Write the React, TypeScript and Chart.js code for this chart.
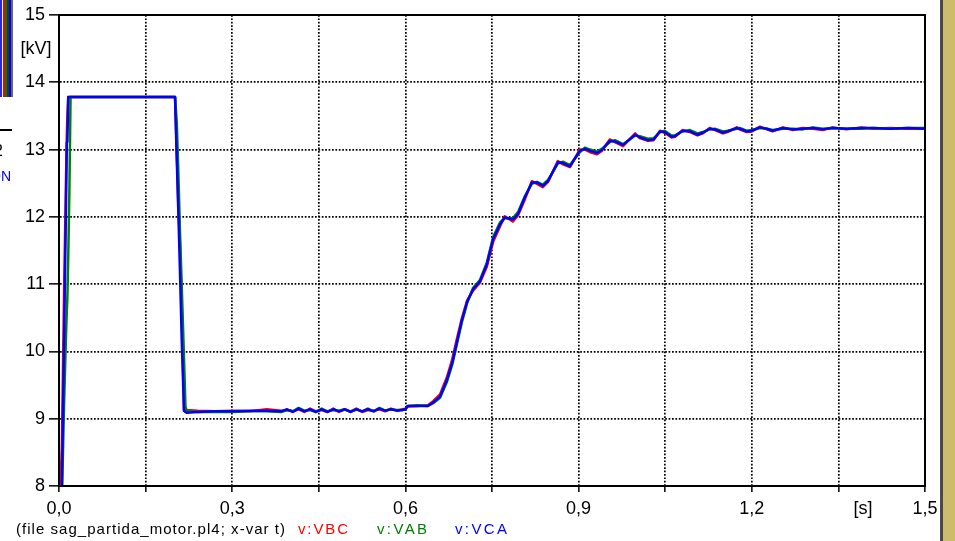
import React, { useEffect, useRef } from 'react';
import { Chart, registerables } from 'chart.js';

Chart.register(...registerables);

// ---- data (time in s, voltages in kV) ----
const T = [
  0.000, 0.005, 0.009, 0.012, 0.0135, 0.0145, 0.016, 0.018, 0.020, 0.201,
  0.204, 0.2066, 0.2095, 0.2125, 0.2165, 0.219, 0.221, 0.24, 0.27, 0.30,
  0.33, 0.36, 0.385, 0.395, 0.405, 0.415, 0.425, 0.435, 0.445, 0.455,
  0.465, 0.475, 0.485, 0.495, 0.505, 0.515, 0.525, 0.535, 0.545, 0.555,
  0.565, 0.575, 0.585, 0.595, 0.600, 0.604, 0.620, 0.639, 0.648, 0.660,
  0.672, 0.681, 0.689, 0.698, 0.707, 0.717, 0.729, 0.741, 0.752, 0.764,
  0.772, 0.786, 0.795, 0.807, 0.819, 0.828, 0.838, 0.847, 0.864, 0.873,
  0.885, 0.902, 0.911, 0.920, 0.932, 0.940, 0.954, 0.963, 0.977, 0.998,
  1.006, 1.020, 1.030, 1.041, 1.049, 1.061, 1.067, 1.080, 1.093, 1.106,
  1.115, 1.127, 1.136, 1.150, 1.158, 1.174, 1.179, 1.191, 1.200, 1.214,
  1.226, 1.236, 1.254, 1.271, 1.288, 1.306, 1.323, 1.340, 1.364, 1.390,
  1.410, 1.440, 1.470, 1.500,
];

const VBC = [
  7.4, 8.6, 11.0, 12.5, 13.2, 13.5, 13.78, 13.78, 13.78, 13.78,
  12.95, 12.2, 11.6, 10.7, 9.12, 9.14, 9.13, 9.12, 9.11, 9.12,
  9.11, 9.14, 9.12, 9.13, 9.11, 9.14, 9.10, 9.15, 9.11, 9.13,
  9.10, 9.15, 9.10, 9.14, 9.11, 9.15, 9.10, 9.13, 9.12, 9.14,
  9.11, 9.15, 9.12, 9.14, 9.15, 9.18, 9.19, 9.20, 9.26, 9.36,
  9.62, 9.88, 10.18, 10.50, 10.76, 10.90, 11.02, 11.26, 11.63, 11.86,
  12.01, 11.93, 12.02, 12.26, 12.53, 12.49, 12.44, 12.52, 12.83, 12.78,
  12.74, 13.00, 13.00, 12.96, 12.93, 12.98, 13.15, 13.11, 13.05, 13.24,
  13.17, 13.13, 13.14, 13.28, 13.25, 13.18, 13.19, 13.29, 13.26, 13.21,
  13.24, 13.32, 13.29, 13.24, 13.26, 13.33, 13.30, 13.26, 13.27, 13.34,
  13.30, 13.27, 13.33, 13.29, 13.32, 13.31, 13.29, 13.33, 13.30, 13.33,
  13.31, 13.32, 13.31, 13.31,
];

const VAB = [
  7.0, 7.8, 9.3, 10.2, 10.6, 10.8, 11.4, 12.4, 13.78, 13.78,
  13.4, 12.7, 11.8, 11.0, 9.9, 9.18, 9.12, 9.10, 9.10, 9.10,
  9.11, 9.11, 9.10, 9.13, 9.11, 9.16, 9.12, 9.13, 9.10, 9.15,
  9.11, 9.13, 9.12, 9.14, 9.10, 9.14, 9.11, 9.15, 9.11, 9.16,
  9.12, 9.14, 9.13, 9.13, 9.14, 9.19, 9.20, 9.19, 9.23, 9.31,
  9.55, 9.80, 10.10, 10.44, 10.72, 10.94, 11.06, 11.32, 11.70, 11.92,
  11.98, 11.98, 12.07, 12.31, 12.49, 12.52, 12.48, 12.55, 12.79, 12.82,
  12.77, 12.96, 13.03, 13.00, 12.97, 13.01, 13.11, 13.14, 13.08, 13.21,
  13.20, 13.16, 13.17, 13.26, 13.28, 13.21, 13.21, 13.27, 13.29, 13.24,
  13.26, 13.30, 13.31, 13.27, 13.28, 13.31, 13.32, 13.28, 13.29, 13.32,
  13.31, 13.29, 13.31, 13.31, 13.30, 13.33, 13.31, 13.32, 13.31, 13.31,
  13.32, 13.31, 13.32, 13.32,
];

const VCA = [
  7.2, 8.0, 10.3, 12.1, 13.1, 13.12, 13.78, 13.78, 13.78, 13.78,
  12.85, 12.1, 11.2, 10.2, 9.12, 9.10, 9.09, 9.10, 9.11, 9.11,
  9.12, 9.12, 9.11, 9.14, 9.10, 9.15, 9.11, 9.14, 9.10, 9.14,
  9.10, 9.14, 9.11, 9.14, 9.10, 9.14, 9.11, 9.14, 9.11, 9.15,
  9.12, 9.14, 9.12, 9.13, 9.14, 9.19, 9.19, 9.19, 9.24, 9.33,
  9.58, 9.83, 10.13, 10.47, 10.74, 10.92, 11.04, 11.29, 11.67, 11.89,
  11.99, 11.96, 12.04, 12.29, 12.51, 12.51, 12.46, 12.53, 12.81, 12.80,
  12.75, 12.98, 13.01, 12.98, 12.95, 12.99, 13.13, 13.12, 13.07, 13.22,
  13.18, 13.14, 13.15, 13.27, 13.26, 13.19, 13.20, 13.28, 13.27, 13.22,
  13.25, 13.31, 13.30, 13.25, 13.27, 13.32, 13.31, 13.27, 13.28, 13.33,
  13.31, 13.28, 13.32, 13.30, 13.31, 13.32, 13.30, 13.32, 13.31, 13.32,
  13.32, 13.31, 13.32, 13.31,
];

const SERIES_NAMES = ['v:VBC', 'v:VAB', 'v:VCA'];
const SERIES_COLORS = ['#ff0000', '#008000', '#0000ff'];
const X_MIN = 0;
const X_MAX = 1.5;
const X_STEP = 0.15;
const X_LABEL_EVERY = 2; // label every second tick (0,0 0,3 0,6 ...)
const Y_MIN = 8;
const Y_MAX = 15;
const Y_STEP = 1;
const Y_UNIT = '[kV]';
const X_UNIT = '[s]';
const FILE_CAPTION = '(file sag_partida_motor.pl4; x-var t)';

const FONT = '"Liberation Sans", Arial, sans-serif';

const toXY = (vals: number[]) => T.map((t, i) => ({ x: t, y: vals[i] }));

function fitText(ctx: CanvasRenderingContext2D, text: string, x: number, y: number, width: number) {
  (ctx as any).letterSpacing = '0px';
  const w = ctx.measureText(text).width;
  const sp = (width - w) / Math.max(1, text.length - 1);
  (ctx as any).letterSpacing = sp + 'px';
  ctx.fillText(text, x, y);
  (ctx as any).letterSpacing = '0px';
}

const decorPlugin = {
  id: 'decor',
  afterDraw(chart: any) {
    const ctx: CanvasRenderingContext2D = chart.ctx;
    const { left, top, right, bottom } = chart.chartArea;
    const ys = chart.scales.y;
    ctx.save();
    // frame
    ctx.strokeStyle = '#000';
    ctx.lineWidth = 2;
    ctx.setLineDash([]);
    ctx.strokeRect(left, top, right - left, bottom - top);

    // unit labels
    ctx.fillStyle = '#000';
    ctx.font = '18px ' + FONT;
    ctx.textAlign = 'center';
    ctx.textBaseline = 'middle';
    ctx.fillText(Y_UNIT, 36, ys.getPixelForValue(14.5));
    ctx.fillText(X_UNIT, right - 62, bottom + 23);

    // footer caption + series names
    ctx.font = '15px ' + FONT;
    ctx.textAlign = 'left';
    ctx.fillStyle = '#000';
    fitText(ctx, FILE_CAPTION, 16, 530, 269);
    const nameX = [298, 377, 455];
    const nameW = [50, 50, 52];
    SERIES_NAMES.forEach((n, i) => {
      ctx.fillStyle = SERIES_COLORS[i];
      fitText(ctx, n, nameX[i], 530, nameW[i]);
    });

    // cropped neighbouring window remnants on the left
    const vlines: [number, string][] = [
      [1, '#2a2ad0'], [4, '#ff0000'], [6, '#008000'], [8, '#333333'], [10, '#0000ff'], [12, '#666666'],
    ];
    ctx.lineWidth = 2;
    vlines.forEach(([x, c]) => {
      ctx.strokeStyle = c;
      ctx.beginPath();
      ctx.moveTo(x, 0);
      ctx.lineTo(x, 97);
      ctx.stroke();
    });
    ctx.strokeStyle = '#000';
    ctx.lineWidth = 2;
    ctx.beginPath();
    ctx.moveTo(0, 130);
    ctx.lineTo(12, 130);
    ctx.stroke();
    ctx.font = '16px ' + FONT;
    ctx.fillStyle = '#000';
    ctx.fillText('2', -6, 152);
    ctx.fillStyle = '#0000ff';
    ctx.font = '14px ' + FONT;
    ctx.fillText('ON', -10, 177);

    // right-hand strip
    ctx.fillStyle = '#4a4a4a';
    ctx.fillRect(940, 0, 3, chart.height);
    ctx.fillStyle = '#ccbc6c';
    ctx.fillRect(943, 0, chart.width - 943, chart.height);
    ctx.restore();
  },
};

export default function App() {
  const ref = useRef<HTMLCanvasElement | null>(null);
  useEffect(() => {
    if (!ref.current) return;
    const chart = new Chart(ref.current, {
      type: 'line',
      data: {
        datasets: [
          { label: SERIES_NAMES[0], data: toXY(VBC), borderColor: SERIES_COLORS[0], borderWidth: 2.5, order: 3 },
          { label: SERIES_NAMES[1], data: toXY(VAB), borderColor: SERIES_COLORS[1], borderWidth: 2.5, order: 2 },
          { label: SERIES_NAMES[2], data: toXY(VCA), borderColor: SERIES_COLORS[2], borderWidth: 2.5, order: 1 },
        ].map((d) => ({ ...d, pointRadius: 0, tension: 0, fill: false, borderJoinStyle: 'round' as const })),
      },
      options: {
        animation: false,
        responsive: false,
        events: [],
        layout: { padding: { left: 0, top: 15, right: 30, bottom: 0 } },
        plugins: { legend: { display: false }, tooltip: { enabled: false } },
        scales: {
          x: {
            type: 'linear',
            min: X_MIN,
            max: X_MAX,
            afterFit: (s: any) => { s.height = 55; },
            ticks: {
              stepSize: X_STEP,
              autoSkip: false,
              maxRotation: 0,
              color: '#000',
              padding: 6,
              font: { family: FONT, size: 18 },
              callback: (v: any) => {
                const k = Math.round(Number(v) / X_STEP);
                return k % X_LABEL_EVERY === 0 ? Number(v).toFixed(1).replace('.', ',') : '';
              },
            },
            grid: { color: '#000', lineWidth: 1.7, tickLength: 6, tickColor: '#000', tickWidth: 1.5, tickBorderDash: [] },
            border: { display: true, color: '#000', width: 2, dash: [1.7, 1.7] },
          },
          y: {
            type: 'linear',
            min: Y_MIN,
            max: Y_MAX,
            afterFit: (s: any) => { s.width = 59; },
            ticks: {
              stepSize: Y_STEP,
              color: '#000',
              padding: 4,
              font: { family: FONT, size: 18 },
              callback: (v: any) => String(v),
            },
            grid: { color: '#000', lineWidth: 1.7, tickLength: 10, tickColor: '#000', tickWidth: 1.5, tickBorderDash: [] },
            border: { display: true, color: '#000', width: 2, dash: [1.7, 1.7] },
          },
        },
      },
      plugins: [decorPlugin],
    });
    return () => chart.destroy();
  }, []);
  return (
    <div style={{ position: 'fixed', left: 0, top: 0, width: 955, height: 541, background: '#fff' }}>
      <canvas ref={ref} width={955} height={541} style={{ display: 'block', width: 955, height: 541 }} />
    </div>
  );
}
